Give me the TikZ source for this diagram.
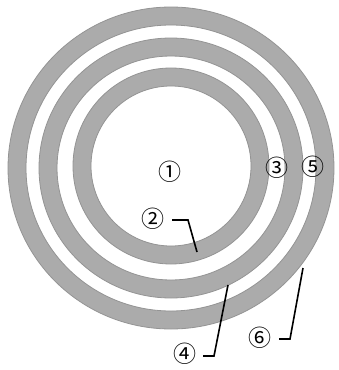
\documentclass[tikz,border=0pt]{standalone}
\usepackage{fontspec}
\newfontfamily\cjk{Noto Sans CJK SC}
\begin{document}
\begin{tikzpicture}[x=1pt,y=-1pt,
  ring/.style={draw=black!33, line width=18pt},
  ringedge/.style={draw=black!42, line width=0.8pt},
  lbl/.style={font=\cjk\fontsize{23}{23}\selectfont, inner sep=0pt},
  leader/.style={draw=black, line width=1.6pt}]
\useasboundingbox (0,0) rectangle (338,370);
\coordinate (c) at (171,168);
% rings
\draw[ring] (c) ellipse [x radius=154, y radius=152];
\draw[ring] (c) ellipse [x radius=123, y radius=121];
\draw[ring] (171,166) ellipse [x radius=89, y radius=89];
\foreach \r/\s in {163/161,145/143,132/130,114/112}{
  \draw[ringedge] (c) ellipse [x radius=\r, y radius=\s];
}
\draw[ringedge] (171,166) ellipse [x radius=98, y radius=98];
\draw[ringedge] (171,166) ellipse [x radius=80, y radius=80];
% labels
\node[lbl] (n1) at (170,172) {①};
\node[lbl] (n2) at (153,219) {②};
\node[lbl] (n3) at (277,168) {③};
\node[lbl] (n5) at (313,167) {⑤};
\node[lbl] (n4) at (185,354) {④};
\node[lbl] (n6) at (260,338) {⑥};
% leader ends
\coordinate (e2) at (197,252);
\coordinate (e4) at (228,285);
\coordinate (e6) at (303,268);
\draw[leader] (172,220) -- (188,220) -- (e2);
\draw[leader] (203,356) -- (214,356) -- (e4);
\draw[leader] (279,339) -- (290,339) -- (e6);
\end{tikzpicture}
\end{document}
